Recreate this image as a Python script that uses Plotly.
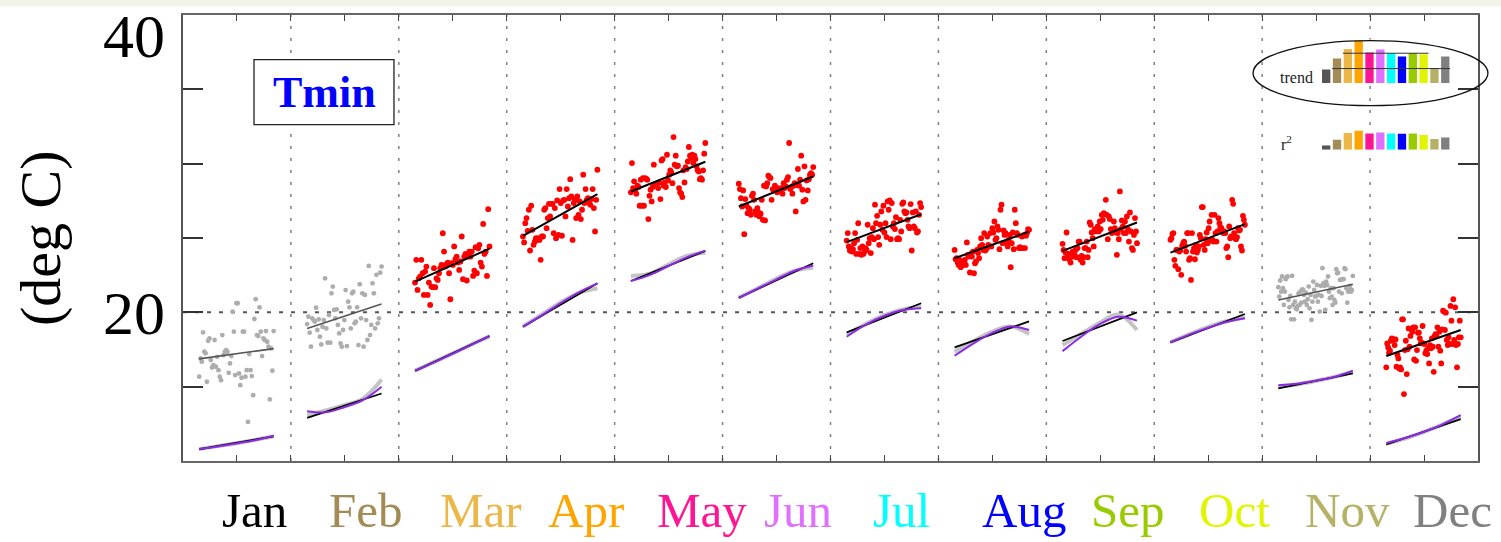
import numpy as np
import plotly.graph_objects as go

# ---------------- data ----------------
months = ['Jan', 'Feb', 'Mar', 'Apr', 'May', 'Jun', 'Jul', 'Aug', 'Sep', 'Oct', 'Nov', 'Dec']
month_colors = ['#000000', '#A38B55', '#EBB748', '#FFA500', '#FF1493', '#E070FF',
                '#00FFFF', '#0000FF', '#99CC00', '#E2F500', '#B5B265', '#808080']
bar_colors = ['#555555', '#A38B55', '#EBB748', '#FFA500', '#FF1493', '#E070FF',
              '#00FFFF', '#0000FF', '#99CC00', '#E2F500', '#B5B265', '#808080']
# months whose scatter is drawn in gray (not significant)
gray_months = ['Jan', 'Feb', 'Nov']

tmin_jan = [15.67, 16.90, 16.68, 18.65, 17.35, 17.24, 15.33, 18.09, 18.25, 16.79, 16.29, 16.45, 18.14, 16.34,
            17.01, 16.11, 15.67, 15.44, 18.47, 17.12, 17.35, 17.46, 17.35, 15.93, 16.56, 17.06, 20.04, 18.70,
            15.78, 20.61, 20.61, 15.89, 15.10, 15.60, 18.70, 18.70, 15.67, 16.11, 12.63, 17.19, 16.11, 15.71,
            14.43, 19.55, 20.88, 18.47, 18.40, 20.34, 18.70, 17.06, 18.25, 18.14, 18.74, 18.02, 17.69, 14.14,
            17.57, 16.07, 18.74]
tmin_feb = [19.21, 19.71, 18.63, 17.69, 19.60, 19.48, 19.37, 20.31, 18.81, 19.53, 18.36, 17.84, 19.03, 19.48,
            22.29, 18.92, 17.96, 19.82, 17.96, 21.28, 21.73, 20.16, 19.60, 20.20, 19.15, 18.58, 17.91, 17.69,
            18.81, 19.48, 21.50, 17.73, 20.72, 20.34, 18.92, 21.28, 21.39, 19.26, 19.37, 20.34, 17.80, 21.89,
            19.60, 21.28, 17.69, 21.17, 19.48, 18.14, 23.12, 18.47, 19.15, 21.95, 21.28, 18.92, 22.52, 19.26,
            19.60, 22.67, 23.08]
tmin_mar = [22.00, 23.53, 21.51, 22.29, 22.40, 23.53, 22.63, 21.17, 22.74, 23.08, 21.17, 22.00, 20.50, 21.73,
            21.69, 22.97, 21.69, 22.29, 22.18, 22.63, 22.97, 23.19, 25.32, 24.09, 23.08, 23.26, 23.35, 22.63,
            20.88, 23.30, 23.19, 24.43, 23.57, 23.75, 23.35, 22.85, 23.42, 25.10, 22.23, 23.75, 23.93, 22.14,
            23.75, 24.09, 23.75, 24.09, 22.45, 22.81, 24.38, 22.63, 24.31, 24.54, 23.35, 23.08, 25.95, 23.93,
            24.09, 22.45, 26.94, 24.43]
tmin_apr = [25.10, 24.70, 26.00, 26.34, 25.48, 26.90, 24.16, 27.17, 25.55, 24.54, 24.76, 24.99, 24.87, 24.99,
            24.87, 23.53, 25.10, 25.10, 26.90, 27.01, 25.66, 26.34, 27.30, 26.45, 27.30, 27.30, 25.32, 27.01,
            24.99, 27.53, 25.21, 28.29, 27.35, 25.15, 27.53, 27.57, 26.45, 28.29, 27.12, 27.68, 28.96, 27.80,
            24.87, 27.35, 27.57, 26.34, 27.80, 26.56, 27.46, 26.27, 26.90, 29.26, 27.35, 28.29, 27.57, 27.68,
            27.35, 27.23, 27.62, 28.29, 27.01, 25.44, 27.57, 29.59]
tmin_may = [28.07, 30.04, 28.36, 28.81, 28.25, 27.98, 28.52, 28.43, 27.17, 28.92, 27.17, 29.03, 27.17, 29.03,
            28.99, 28.92, 26.27, 27.84, 28.25, 27.46, 28.43, 29.93, 28.52, 28.58, 28.65, 28.36, 28.74, 27.62,
            30.22, 30.31, 28.52, 28.74, 28.43, 30.60, 28.87, 29.26, 29.55, 29.41, 28.69, 31.79, 29.93, 30.54,
            29.82, 29.86, 28.36, 28.07, 27.98, 27.75, 29.55, 28.74, 29.77, 29.64, 30.15, 31.12, 30.54, 30.38,
            30.60, 30.04, 30.54, 30.31, 29.82, 29.55, 29.48, 28.96, 29.03, 28.92, 29.55, 30.67, 31.39]
tmin_jun = [28.65, 28.29, 27.68, 27.12, 28.20, 25.26, 27.62, 27.17, 26.67, 27.01, 26.90, 26.56, 27.84, 27.98,
            27.57, 26.79, 26.56, 27.01, 26.72, 26.45, 26.63, 27.57, 26.22, 28.52, 26.18, 28.47, 28.69, 29.19,
            29.10, 29.03, 27.57, 28.29, 28.20, 28.52, 28.25, 28.07, 28.36, 28.13, 28.20, 28.36, 27.98, 28.69,
            28.36, 28.47, 28.92, 29.10, 31.39, 28.29, 28.43, 27.98, 28.52, 28.69, 26.79, 28.58, 29.64, 28.52,
            28.92, 30.54, 28.25, 27.46, 29.82, 27.57, 28.87, 28.20, 28.96, 29.26, 29.37, 29.26, 29.77]
tmin_jul = [24.83, 25.33, 24.43, 24.16, 24.32, 24.09, 24.25, 24.65, 25.33, 23.93, 24.88, 26.00, 23.93, 24.32,
            23.87, 24.43, 23.93, 24.09, 24.32, 24.20, 25.89, 24.65, 24.99, 23.98, 25.06, 25.66, 24.92, 27.24,
            26.00, 26.49, 25.06, 24.54, 25.89, 26.79, 25.55, 27.17, 25.37, 26.00, 25.06, 27.46, 26.90, 27.53,
            24.92, 27.35, 25.78, 26.00, 25.60, 26.40, 24.92, 24.99, 24.92, 26.22, 25.44, 27.30, 27.39, 26.79,
            26.67, 26.72, 26.22, 25.78, 25.66, 27.28, 24.16, 26.72, 25.78, 25.66, 26.79, 25.37, 25.44, 26.56,
            27.35, 27.08]
tmin_aug = [24.20, 23.57, 23.64, 23.35, 23.19, 23.53, 23.04, 23.30, 23.19, 23.42, 23.53, 23.19, 24.70, 23.87,
            23.75, 22.68, 23.93, 23.75, 24.09, 22.63, 23.30, 23.42, 24.20, 23.98, 23.64, 24.43, 24.99, 24.54,
            24.20, 25.33, 24.16, 24.25, 25.10, 24.54, 24.43, 25.33, 24.43, 25.66, 25.37, 26.11, 24.88, 24.99,
            25.78, 25.55, 24.25, 26.90, 27.24, 24.65, 25.51, 25.21, 25.33, 24.65, 24.43, 24.88, 25.21, 23.04,
            24.65, 25.37, 24.25, 26.90, 26.00, 25.33, 25.21, 24.32, 24.38, 24.32, 25.10, 24.32, 25.21, 24.32,
            25.15, 25.33, 25.60, 25.55]
tmin_sep = [24.61, 24.20, 23.64, 24.02, 25.37, 23.71, 23.93, 23.53, 23.35, 23.93, 24.09, 23.75, 23.87, 24.20,
            23.71, 24.32, 24.76, 24.76, 23.53, 23.80, 23.35, 23.71, 24.32, 24.32, 24.76, 23.71, 24.20, 26.05,
            25.89, 25.37, 24.99, 24.43, 25.60, 25.44, 25.55, 25.78, 25.44, 26.11, 25.60, 26.56, 26.22, 26.67,
            26.61, 27.57, 26.56, 24.92, 26.45, 26.27, 25.60, 25.33, 25.55, 26.11, 25.66, 25.37, 23.87, 25.33,
            24.92, 28.13, 25.60, 26.18, 25.78, 25.33, 26.11, 25.33, 26.45, 25.60, 24.76, 26.72, 25.44, 24.32,
            24.20, 25.21, 26.34, 25.44, 24.65]
tmin_oct = [24.88, 24.99, 25.28, 25.33, 23.53, 23.13, 24.20, 24.20, 22.90, 24.09, 24.16, 22.52, 24.47, 24.65,
            24.76, 24.47, 24.09, 25.33, 25.33, 23.53, 23.64, 22.18, 25.33, 24.09, 24.32, 23.57, 24.54, 24.02,
            24.20, 24.43, 25.21, 24.99, 27.08, 27.08, 24.54, 24.20, 24.92, 25.37, 24.65, 25.66, 26.11, 24.83,
            26.56, 24.88, 24.76, 26.56, 25.33, 24.76, 25.44, 26.34, 26.00, 25.73, 25.66, 25.44, 25.33, 25.44,
            25.33, 24.32, 24.43, 23.71, 25.78, 24.99, 25.10, 27.57, 27.30, 25.33, 24.99, 24.92, 25.06, 25.66,
            25.51, 25.55, 24.43, 24.16, 26.49, 26.22, 25.89]
tmin_nov = [21.69, 21.06, 22.14, 21.39, 22.41, 21.62, 20.50, 21.39, 22.23, 22.36, 22.41, 20.83, 20.34, 21.10,
            19.53, 22.45, 20.50, 19.53, 20.72, 20.27, 20.20, 20.43, 21.28, 20.50, 21.39, 20.65, 21.55, 21.51,
            21.17, 20.72, 21.33, 20.50, 20.88, 21.73, 20.27, 21.17, 19.49, 20.72, 22.07, 21.51, 21.06, 21.10,
            21.84, 20.72, 21.17, 20.05, 21.78, 21.10, 22.97, 21.96, 21.78, 20.16, 22.07, 21.84, 22.41, 21.39,
            20.95, 21.62, 21.06, 20.50, 21.62, 20.83, 20.65, 22.90, 22.63, 22.67, 21.39, 22.18, 22.18, 21.28,
            22.23, 22.23, 22.97, 22.90, 21.62, 20.65, 21.39, 21.51, 21.78, 21.39, 21.51, 22.45]
tmin_dec = [16.30, 17.91, 17.64, 17.28, 17.42, 18.09, 18.25, 18.14, 18.18, 17.80, 18.18, 16.34, 17.13, 16.90,
            16.23, 16.30, 16.16, 19.53, 19.53, 14.50, 17.46, 18.09, 15.85, 17.51, 18.92, 17.69, 18.41, 18.86,
            18.70, 18.99, 16.83, 18.99, 16.74, 17.46, 18.63, 18.63, 18.25, 17.91, 17.96, 19.08, 17.91, 17.87,
            17.24, 17.42, 17.19, 17.58, 16.56, 17.80, 17.58, 18.25, 17.69, 16.00, 18.41, 18.54, 18.41, 18.99,
            17.69, 18.70, 17.42, 16.56, 18.86, 20.11, 20.05, 18.81, 19.98, 18.14, 17.80, 18.32, 17.87, 20.43,
            19.44, 17.87, 20.88, 18.14, 20.34, 17.80, 16.30, 17.87, 18.32, 19.44, 18.32]

tmin_points = [tmin_jan, tmin_feb, tmin_mar, tmin_apr, tmin_may, tmin_jun,
               tmin_jul, tmin_aug, tmin_sep, tmin_oct, tmin_nov, tmin_dec]

# linear trend of the yearly values (first year, last year)
trend_start = [16.87, 18.92, 22.06, 25.14, 28.13, 27.12, 24.72, 23.64, 24.13, 24.02, 20.83, 17.06]
trend_end = [17.56, 20.56, 24.29, 27.95, 30.13, 29.14, 26.60, 25.43, 26.04, 25.93, 21.89, 18.81]

# lower group: linear fit of smoothed series (first, last)
low_start = [10.79, 12.90, 16.06, 19.03, 22.11, 20.98, 18.65, 17.64, 18.07, 17.98, 14.88, 11.11]
low_end = [11.66, 14.54, 18.40, 21.95, 24.13, 23.30, 20.61, 19.39, 20.00, 19.89, 15.89, 12.81]

# smoothed curves, 5 samples across the record
purple_curve = [
    [10.80, 10.98, 11.18, 11.40, 11.70],
    [13.35, 13.28, 13.62, 14.09, 14.99],
    [16.06, 16.62, 17.20, 17.80, 18.42],
    [19.03, 19.80, 20.60, 21.35, 21.95],
    [22.11, 22.50, 23.10, 23.70, 24.15],
    [20.95, 21.60, 22.20, 22.80, 23.15],
    [18.36, 19.15, 19.75, 20.15, 20.27],
    [17.08, 17.90, 18.60, 19.05, 18.81],
    [17.39, 18.36, 19.20, 19.70, 19.44],
    [17.98, 18.50, 18.95, 19.35, 19.60],
    [15.10, 15.20, 15.40, 15.65, 16.07],
    [11.20, 11.55, 11.95, 12.45, 13.08],
]
gray_curve = [
    [10.80, 11.00, 11.20, 11.42, 11.66],
    [13.10, 13.40, 13.75, 14.20, 15.49],
    [16.08, 16.65, 17.22, 17.82, 18.38],
    [19.05, 19.85, 20.65, 21.30, 21.62],
    [22.45, 22.60, 23.20, 23.80, 24.00],
    [21.00, 21.60, 22.25, 22.80, 23.00],
    [18.50, 19.20, 19.80, 20.20, 20.40],
    [17.35, 18.05, 18.70, 19.05, 18.54],
    [17.80, 18.55, 19.30, 19.85, 18.81],
    [18.00, 18.52, 19.00, 19.40, 19.65],
    [15.00, 15.15, 15.38, 15.65, 16.00],
    [11.15, 11.50, 11.95, 12.45, 13.00],
]

# inset bars
trend_bar = [0.40, 0.73, 1.02, 1.27, 0.91, 1.00, 0.89, 0.79, 0.90, 0.86, 0.44, 0.79]
r2_bar = [0.13, 0.30, 0.50, 0.57, 0.49, 0.52, 0.49, 0.48, 0.49, 0.44, 0.32, 0.37]
trend_ref_levels = [0.43, 0.89]

# label x offsets from panel centre (layout)
label_dx = [0.167, 0.196, 0.261, 0.234, 0.309, 0.199, 0.162, 0.293, 0.257, 0.239, 0.295, 0.268]

# ---------------- figure ----------------
SERIF = 'Liberation Serif, Times New Roman, serif'
X0_OFF, X1_OFF = -0.35, 0.34

fig = go.Figure()

for i, m in enumerate(months):
    c = i + 1
    pts = tmin_points[i]
    xs = np.linspace(c + X0_OFF, c + X1_OFF, len(pts))
    is_gray = m in gray_months
    fig.add_trace(go.Scatter(
        x=xs, y=pts, mode='markers',
        marker=dict(size=4.8 if is_gray else 5.8, color='#ADADAD' if is_gray else '#FF0000', line=dict(width=0)),
        showlegend=False, hoverinfo='skip'))
    fig.add_trace(go.Scatter(
        x=[c + X0_OFF, c + X1_OFF], y=[trend_start[i], trend_end[i]], mode='lines',
        line=dict(color='#555555' if is_gray else '#000000', width=1.6 if is_gray else 2),
        showlegend=False, hoverinfo='skip'))
    xc = np.linspace(c + X0_OFF, c + X1_OFF, 5)
    fig.add_trace(go.Scatter(
        x=xc, y=gray_curve[i], mode='lines', line=dict(color='#C4C4C4', width=4, shape='spline'),
        showlegend=False, hoverinfo='skip'))
    fig.add_trace(go.Scatter(
        x=[c + X0_OFF, c + X1_OFF], y=[low_start[i], low_end[i]], mode='lines',
        line=dict(color='#000000', width=1.8), showlegend=False, hoverinfo='skip'))
    fig.add_trace(go.Scatter(
        x=xc, y=purple_curve[i], mode='lines', line=dict(color='#8A2BE2', width=2, shape='spline'),
        showlegend=False, hoverinfo='skip'))

# inset bar charts
idx = list(range(1, 13))
fig.add_trace(go.Bar(x=idx, y=trend_bar, marker=dict(color=bar_colors, line=dict(width=0)),
                     xaxis='x2', yaxis='y2', showlegend=False, hoverinfo='skip'))
fig.add_trace(go.Bar(x=idx, y=r2_bar, marker=dict(color=bar_colors, line=dict(width=0)),
                     xaxis='x3', yaxis='y3', showlegend=False, hoverinfo='skip'))

shapes = []
# month dividers
for k in range(1, 12):
    shapes.append(dict(type='line', xref='x', yref='y', x0=k + 0.5, x1=k + 0.5, y0=10, y1=40,
                       line=dict(color='#808080', width=1.5, dash='3px,9px'), layer='below'))
# 20 deg dotted line
shapes.append(dict(type='line', xref='x', yref='y', x0=0.5, x1=12.5, y0=20, y1=20,
                   line=dict(color='#555555', width=2, dash='4px,8px'), layer='below'))
# Tmin box
shapes.append(dict(type='rect', xref='x', yref='y', x0=1.158, x1=2.455, y0=32.62, y1=37.0,
                   line=dict(color='#222222', width=1.3), fillcolor='white'))
# ellipse around the trend bars
shapes.append(dict(type='circle', xref='paper', yref='paper', x0=0.8263, x1=1.0077, y0=0.7967, y1=0.9427,
                   line=dict(color='#111111', width=1.3)))
# reference levels in the trend bars
shapes.append(dict(type='line', xref='x2', yref='y2', x0=1.55, x1=12.45, y0=trend_ref_levels[0],
                   y1=trend_ref_levels[0], line=dict(color='#333333', width=1)))
shapes.append(dict(type='line', xref='x2', yref='y2', x0=2.55, x1=10.45, y0=trend_ref_levels[1],
                   y1=trend_ref_levels[1], line=dict(color='#333333', width=1)))
# faint band along the top of the page
shapes.append(dict(type='rect', xref='paper', yref='paper', x0=-0.2, x1=1.1, y0=1.019, y1=1.06,
                   line=dict(width=0), fillcolor='#F2F4EA', layer='below'))

annotations = []
for i, m in enumerate(months):
    annotations.append(dict(x=i + 1 + label_dx[i], y=-0.11, xref='x', yref='paper', text=m, showarrow=False,
                            font=dict(family=SERIF, size=49, color=month_colors[i]),
                            xanchor='center', yanchor='middle'))
annotations += [
    dict(x=-0.0124, y=0.954, xref='paper', yref='paper', text='40', showarrow=False,
         font=dict(family=SERIF, size=62, color='black'), xanchor='right', yanchor='middle'),
    dict(x=-0.0124, y=0.332, xref='paper', yref='paper', text='20', showarrow=False,
         font=dict(family=SERIF, size=62, color='black'), xanchor='right', yanchor='middle'),
    dict(x=-0.1104, y=0.50, xref='paper', yref='paper', text='(deg C)', showarrow=False, textangle=-90,
         font=dict(family=SERIF, size=58, color='black'), xanchor='center', yanchor='middle'),
    dict(x=1.807, y=34.78, xref='x', yref='y', text='<b>Tmin</b>', showarrow=False,
         font=dict(family=SERIF, size=44, color='#0000FF'), xanchor='center', yanchor='middle'),
    dict(x=0.8595, y=0.8596, xref='paper', yref='paper', text='trend', showarrow=False,
         font=dict(family=SERIF, size=16, color='#222222'), xanchor='center', yanchor='middle'),
    dict(x=0.8525, y=0.7136, xref='paper', yref='paper', text='r<sup>2</sup>', showarrow=False,
         font=dict(family=SERIF, size=16, color='#222222'), xanchor='center', yanchor='middle'),
]

fig.update_layout(
    width=1501, height=542,
    margin=dict(l=183, r=23, t=15, b=81),
    paper_bgcolor='white', plot_bgcolor='white',
    showlegend=False, bargap=0.23,
    xaxis=dict(range=[0.5, 12.5], showgrid=False, zeroline=False,
               tickvals=[k * 0.5 for k in range(2, 25)], ticks='inside', ticklen=6, tickwidth=1.2,
               tickcolor='#444444', showticklabels=False,
               showline=True, mirror='ticks', linecolor='#666666', linewidth=2),
    yaxis=dict(range=[10, 40], showgrid=False, zeroline=False,
               tickvals=[15, 20, 25, 30, 35], ticks='inside', ticklen=20, tickwidth=1.5,
               tickcolor='#333333', showticklabels=False,
               showline=True, mirror='ticks', linecolor='#555555', linewidth=2),
    xaxis2=dict(domain=[0.8786, 0.9789], range=[0.5, 12.5], visible=False, anchor='y2'),
    yaxis2=dict(domain=[0.8477, 0.9450], range=[0, 1.3], visible=False, anchor='x2'),
    xaxis3=dict(domain=[0.8786, 0.9789], range=[0.5, 12.5], visible=False, anchor='y3'),
    yaxis3=dict(domain=[0.6979, 0.7428], range=[0, 0.6], visible=False, anchor='x3'),
    shapes=shapes, annotations=annotations,
)

fig.write_html('out.html', config={'displayModeBar': False},
               post_script="document.body.style.margin='0';document.body.style.overflow='hidden';")
